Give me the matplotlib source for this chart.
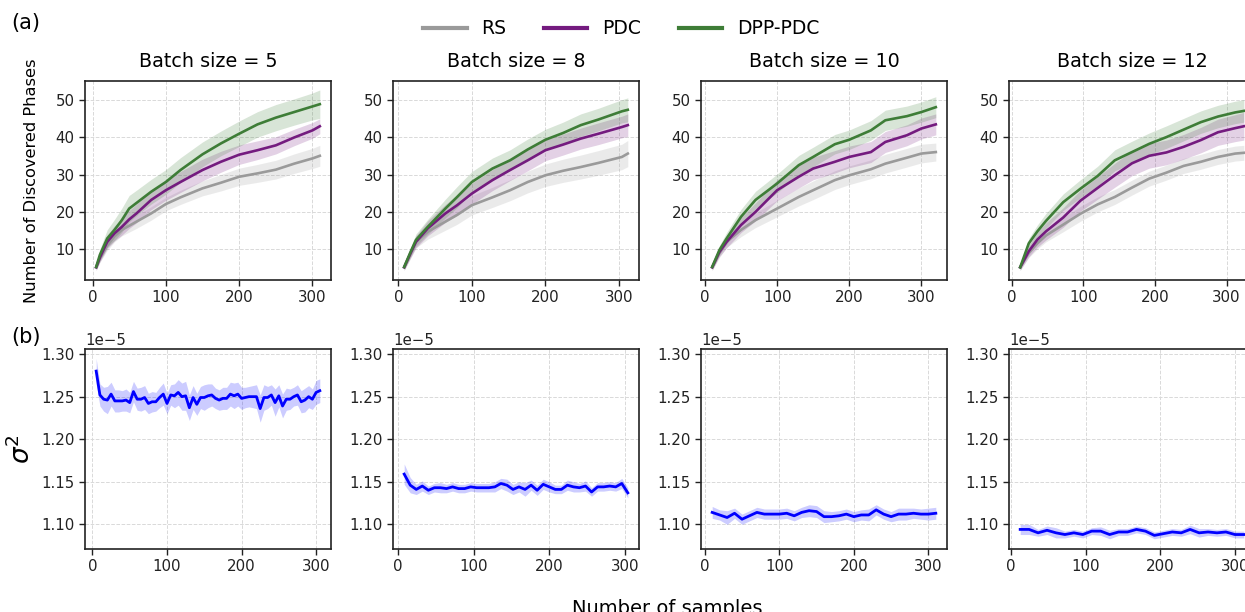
import numpy as np
import matplotlib
matplotlib.use("Agg")
import matplotlib.pyplot as plt
from matplotlib.lines import Line2D

# --- top row: number of discovered phases (mean and band half-width) ---
batch_sizes = [5, 8, 10, 12]

x_b5 = [5, 10, 20, 30, 40, 50, 60, 80, 100, 120, 150, 175, 200, 225, 250, 275, 300, 310]
rs_b5 = [5.2, 7.5, 11.0, 13.5, 15.2, 16.3, 17.4, 19.6, 22.1, 23.9, 26.3, 27.8, 29.4, 30.3, 31.3, 32.9, 34.3, 35.0]
pdc_b5 = [5.2, 7.8, 12.0, 14.3, 16.0, 18.0, 19.6, 23.2, 25.8, 28.0, 31.2, 33.4, 35.3, 36.5, 37.8, 39.9, 41.8, 42.9]
dpp_b5 = [5.3, 8.5, 12.9, 15.2, 17.8, 20.9, 22.4, 25.4, 28.0, 31.2, 35.4, 38.3, 40.9, 43.4, 45.2, 46.7, 48.2, 48.8]
rs_sd_b5 = [0.8, 1.0, 1.3, 1.5, 1.6, 1.7, 1.8, 1.8, 1.8, 1.9, 2.0, 2.2, 2.3, 2.4, 2.5, 2.6, 2.7, 2.8]
pdc_sd_b5 = [0.8, 1.2, 1.8, 2.0, 2.2, 2.4, 2.5, 2.6, 2.7, 2.8, 2.9, 2.8, 2.6, 2.5, 2.3, 2.2, 2.1, 2.0]
dpp_sd_b5 = [0.8, 1.5, 2.3, 2.8, 3.2, 3.5, 3.4, 3.3, 3.3, 3.3, 3.3, 3.3, 3.4, 3.4, 3.5, 3.5, 3.6, 3.8]

x_b8 = [8, 16, 24, 40, 64, 80, 100, 128, 152, 176, 200, 224, 248, 272, 304, 312]
rs_b8 = [5.2, 8.5, 12.0, 14.7, 17.4, 19.2, 21.8, 23.9, 25.8, 28.0, 29.8, 31.0, 32.0, 33.1, 34.7, 35.6]
pdc_b8 = [5.2, 8.7, 12.0, 15.6, 19.6, 21.8, 24.9, 28.5, 31.2, 33.8, 36.5, 38.0, 39.6, 40.9, 42.7, 43.2]
dpp_b8 = [5.3, 9.0, 12.5, 16.0, 20.9, 24.0, 28.0, 31.6, 33.8, 36.7, 39.3, 41.1, 43.2, 44.7, 46.9, 47.3]
rs_sd_b8 = [0.8, 1.2, 1.6, 2.0, 2.3, 2.5, 2.6, 2.7, 2.8, 2.9, 3.0, 3.1, 3.2, 3.3, 3.4, 3.5]
pdc_sd_b8 = [0.8, 1.2, 1.6, 2.0, 2.4, 2.7, 2.8, 2.8, 2.8, 2.8, 2.8, 2.8, 2.8, 2.9, 2.9, 3.0]
dpp_sd_b8 = [0.8, 1.2, 1.6, 2.0, 2.5, 2.8, 2.8, 2.8, 2.8, 2.8, 2.8, 2.9, 3.0, 3.0, 3.1, 3.2]

x_b10 = [10, 20, 30, 50, 70, 100, 130, 150, 180, 200, 230, 250, 280, 300, 320]
rs_b10 = [5.2, 9.0, 12.0, 15.2, 17.8, 20.9, 24.0, 25.8, 28.5, 29.8, 31.4, 32.9, 34.5, 35.6, 36.0]
pdc_b10 = [5.2, 9.3, 12.0, 16.5, 20.0, 25.8, 29.4, 31.6, 33.4, 34.7, 36.0, 38.7, 40.5, 42.3, 43.4]
dpp_b10 = [5.3, 9.8, 12.9, 18.7, 23.2, 27.6, 32.5, 34.7, 38.1, 39.3, 41.8, 44.5, 45.6, 46.7, 48.0]
rs_sd_b10 = [0.8, 1.2, 1.5, 1.8, 2.0, 2.2, 2.4, 2.5, 2.5, 2.5, 2.5, 2.5, 2.5, 2.5, 2.4]
pdc_sd_b10 = [0.8, 1.2, 1.6, 2.0, 2.4, 2.8, 3.0, 3.0, 3.0, 2.9, 2.8, 2.8, 2.8, 2.8, 2.8]
dpp_sd_b10 = [0.8, 1.2, 1.6, 2.0, 2.3, 2.5, 2.6, 2.6, 2.6, 2.6, 2.6, 2.7, 2.7, 2.7, 2.8]

x_b12 = [12, 24, 36, 48, 72, 96, 120, 144, 168, 192, 216, 240, 264, 288, 312, 324]
rs_b12 = [5.2, 9.0, 11.6, 13.7, 16.6, 19.5, 22.0, 24.0, 26.5, 28.9, 30.5, 32.3, 33.4, 34.7, 35.6, 35.8]
pdc_b12 = [5.2, 9.5, 12.6, 14.8, 18.5, 23.0, 26.4, 29.8, 33.0, 35.0, 35.9, 37.4, 39.2, 41.3, 42.4, 42.9]
dpp_b12 = [5.2, 11.6, 14.8, 17.6, 22.6, 26.2, 29.6, 33.8, 36.0, 38.2, 40.0, 42.0, 44.0, 45.5, 46.6, 47.0]
rs_sd_b12 = [0.8, 1.2, 1.5, 1.7, 1.9, 2.0, 2.0, 2.0, 2.0, 2.0, 2.0, 2.0, 2.0, 2.0, 2.0, 2.0]
pdc_sd_b12 = [0.8, 1.5, 2.0, 2.3, 2.6, 2.8, 3.0, 3.2, 3.3, 3.3, 3.3, 3.3, 3.4, 3.5, 3.6, 3.7]
dpp_sd_b12 = [0.8, 1.3, 1.7, 2.0, 2.2, 2.4, 2.6, 2.8, 2.9, 2.9, 3.0, 3.0, 3.0, 3.0, 3.0, 3.0]

# --- bottom row: sigma^2 in units of 1e-5 ---
xs_b5 = np.arange(5, 306, 5)
sig_b5 = [1.280, 1.252, 1.247, 1.246, 1.253, 1.245, 1.245, 1.245, 1.246, 1.243,
          1.256, 1.247, 1.247, 1.249, 1.242, 1.244, 1.244, 1.249, 1.253, 1.242,
          1.252, 1.251, 1.255, 1.250, 1.251, 1.237, 1.249, 1.241, 1.249, 1.249,
          1.251, 1.252, 1.248, 1.246, 1.248, 1.248, 1.253, 1.251, 1.253, 1.248,
          1.249, 1.250, 1.250, 1.250, 1.236, 1.249, 1.249, 1.252, 1.243, 1.251,
          1.239, 1.247, 1.247, 1.250, 1.252, 1.244, 1.246, 1.250, 1.247, 1.255,
          1.257]
sig_sd_b5 = [0.015, 0.013, 0.014, 0.016, 0.014, 0.013, 0.013, 0.012, 0.013, 0.012,
             0.012, 0.013, 0.014, 0.014, 0.012, 0.012, 0.011, 0.012, 0.013, 0.012,
             0.012, 0.014, 0.015, 0.016, 0.017, 0.015, 0.014, 0.013, 0.013, 0.015,
             0.014, 0.013, 0.012, 0.012, 0.013, 0.013, 0.014, 0.015, 0.014, 0.013,
             0.012, 0.012, 0.013, 0.014, 0.016, 0.015, 0.013, 0.012, 0.016, 0.013,
             0.014, 0.013, 0.012, 0.011, 0.012, 0.013, 0.014, 0.013, 0.012, 0.014,
             0.014]

xs_b8 = np.arange(8, 305, 8)
sig_b8 = [1.159, 1.146, 1.141, 1.145, 1.140, 1.143, 1.143, 1.142, 1.144, 1.142,
          1.142, 1.144, 1.143, 1.143, 1.143, 1.144, 1.148, 1.146, 1.141, 1.144,
          1.141, 1.146, 1.140, 1.147, 1.144, 1.141, 1.141, 1.146, 1.144, 1.143,
          1.145, 1.138, 1.144, 1.144, 1.145, 1.144, 1.148, 1.137]
sig_sd_b8 = [0.012, 0.009, 0.006, 0.006, 0.005, 0.005, 0.006, 0.005, 0.005, 0.005,
             0.005, 0.005, 0.005, 0.005, 0.005, 0.006, 0.006, 0.007, 0.006, 0.006,
             0.008, 0.006, 0.006, 0.006, 0.006, 0.005, 0.005, 0.006, 0.006, 0.005,
             0.006, 0.005, 0.005, 0.005, 0.005, 0.005, 0.006, 0.006]

xs_b10 = np.arange(10, 311, 10)
sig_b10 = [1.114, 1.111, 1.108, 1.113, 1.106, 1.110, 1.114, 1.112, 1.112, 1.112,
           1.113, 1.110, 1.114, 1.116, 1.115, 1.109, 1.109, 1.110, 1.112, 1.109,
           1.111, 1.111, 1.117, 1.112, 1.109, 1.112, 1.112, 1.113, 1.112, 1.112,
           1.113]
sig_sd_b10 = [0.007, 0.006, 0.008, 0.006, 0.006, 0.006, 0.006, 0.006, 0.006, 0.006,
              0.006, 0.006, 0.006, 0.007, 0.007, 0.007, 0.006, 0.006, 0.006, 0.006,
              0.006, 0.007, 0.006, 0.006, 0.006, 0.007, 0.007, 0.006, 0.006, 0.007,
              0.007]

xs_b12 = np.arange(12, 313, 12)
sig_b12 = [1.094, 1.094, 1.090, 1.093, 1.090, 1.088, 1.090, 1.088, 1.092, 1.092,
           1.088, 1.091, 1.091, 1.094, 1.092, 1.087, 1.089, 1.091, 1.090, 1.094,
           1.090, 1.091, 1.090, 1.091, 1.088, 1.088]
sig_sd_b12 = [0.006, 0.006, 0.004, 0.005, 0.006, 0.004, 0.004, 0.004, 0.004, 0.005,
              0.005, 0.004, 0.004, 0.004, 0.004, 0.004, 0.004, 0.004, 0.004, 0.005,
              0.005, 0.004, 0.004, 0.004, 0.004, 0.004]

top_data = [
    (x_b5, [rs_b5, pdc_b5, dpp_b5], [rs_sd_b5, pdc_sd_b5, dpp_sd_b5]),
    (x_b8, [rs_b8, pdc_b8, dpp_b8], [rs_sd_b8, pdc_sd_b8, dpp_sd_b8]),
    (x_b10, [rs_b10, pdc_b10, dpp_b10], [rs_sd_b10, pdc_sd_b10, dpp_sd_b10]),
    (x_b12, [rs_b12, pdc_b12, dpp_b12], [rs_sd_b12, pdc_sd_b12, dpp_sd_b12]),
]
bottom_data = [(xs_b5, sig_b5, sig_sd_b5), (xs_b8, sig_b8, sig_sd_b8),
               (xs_b10, sig_b10, sig_sd_b10), (xs_b12, sig_b12, sig_sd_b12)]

methods = ["RS", "PDC", "DPP-PDC"]
colors = ["#9a9a9a", "#741b7f", "#3e7d37"]

W, H = 1245, 612
fig = plt.figure(figsize=(W / 100, H / 100), dpi=100)

lefts = [85, 393, 701, 1009]
ax_w = 246

def px_axes(left, top, bottom):
    return fig.add_axes([left / W, 1 - bottom / H, ax_w / W, (bottom - top) / H])

def style(ax):
    ax.grid(True, linestyle="--", color="#d9d9d9", linewidth=0.7)
    ax.set_axisbelow(True)
    for s in ax.spines.values():
        s.set_linewidth(1.2)
        s.set_color("#222222")
    ax.tick_params(labelsize=10.8, length=4, width=1.0, colors="#222222")
    ax.set_xticks([0, 100, 200, 300])

# top row
for i, (x, means, sds) in enumerate(top_data):
    ax = px_axes(lefts[i], 81, 280)
    style(ax)
    for m, sd, c in zip(means, sds, colors):
        m = np.array(m)
        sd = np.array(sd)
        ax.fill_between(x, m - sd, m + sd, color=c, alpha=0.2, linewidth=0)
        ax.plot(x, m, color=c, linewidth=1.9)
    ax.set_ylim(1.8, 55)
    ax.set_yticks([10, 20, 30, 40, 50])
    ax.set_title(f"Batch size = {batch_sizes[i]}", fontsize=13.8, pad=10)
    if i == 0:
        ax.set_ylabel("Number of Discovered Phases", fontsize=11.7, labelpad=12)

# bottom row
for i, (x, sig, sd) in enumerate(bottom_data):
    ax = px_axes(lefts[i], 349, 549)
    style(ax)
    sig = np.array(sig) * 1e-5
    sd = np.array(sd) * 1e-5
    ax.fill_between(x, sig - sd, sig + sd, color="blue", alpha=0.2, linewidth=0)
    ax.plot(x, sig, color="blue", linewidth=2)
    ax.set_ylim(1.071e-5, 1.306e-5)
    ax.set_yticks([1.10e-5, 1.15e-5, 1.20e-5, 1.25e-5, 1.30e-5])
    ax.yaxis.get_offset_text().set_fontsize(10.8)
    if i == 0:
        ax.set_ylabel(r"$\sigma^2$", fontsize=19, labelpad=4)

handles = [Line2D([], [], color=c, linewidth=3) for c in colors]
fig.legend(handles, methods, loc="center", bbox_to_anchor=(0.499, 0.953), ncol=3,
           frameon=False, fontsize=13.5, handlelength=2.3, columnspacing=2.0)

fig.text(0.009, 0.963, "(a)", fontsize=15, va="center")
fig.text(0.009, 0.449, "(b)", fontsize=15, va="center")
fig.text(0.536, -0.004, "Number of samples", fontsize=14, ha="center", va="baseline")

fig.savefig("out.png", dpi=100)
